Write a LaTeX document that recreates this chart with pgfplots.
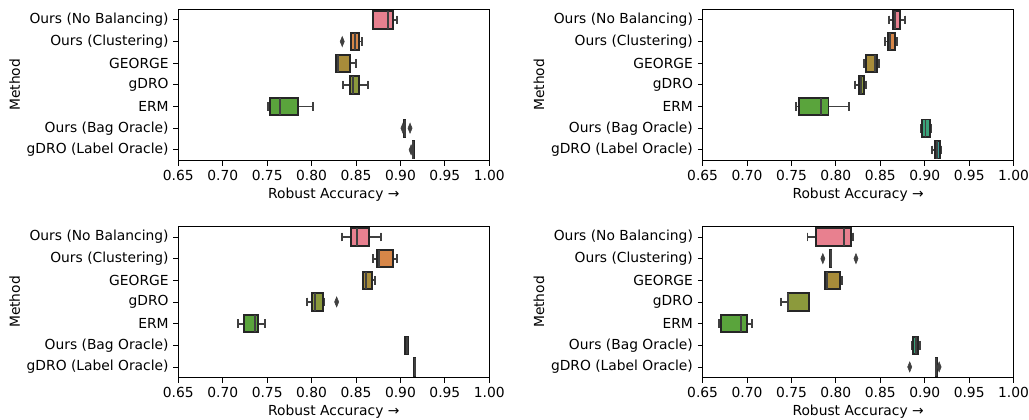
\documentclass[border=0pt]{standalone}
\usepackage{fontspec}
\setmainfont{DejaVu Sans}
\usepackage{pgfplots}
\pgfplotsset{compat=1.18}
\usepgfplotslibrary{statistics}
\definecolor{cA}{RGB}{232,128,143}
\definecolor{cB}{RGB}{214,134,72}
\definecolor{cC}{RGB}{168,140,58}
\definecolor{cD}{RGB}{140,154,60}
\definecolor{cE}{RGB}{90,164,60}
\definecolor{cF}{RGB}{58,162,122}
\definecolor{cG}{RGB}{58,160,152}
\definecolor{lg}{RGB}{64,64,64}
\pgfplotsset{
  myax/.style={
    anchor=south west, scale only axis,
    width=223.9bp, height=109.2bp,
    xmin=0.65, xmax=1.0, ymin=-0.5, ymax=6.5, y dir=reverse,
    xtick={0.65,0.70,...,1.001},
    ytick={0,1,2,3,4,5,6},
    yticklabels={Ours (No Balancing),Ours (Clustering),GEORGE,gDRO,ERM,Ours (Bag Oracle),gDRO (Label Oracle)},
    xticklabel style={/pgf/number format/.cd,fixed,fixed zerofill,precision=2},
    /pgf/number format/assume math mode=true,
    tick align=outside, tick pos=left,
    major tick length=3.5pt,
    every tick/.style={black, line width=0.6pt},
    axis line style={line width=0.6pt},
    font=\fontsize{10}{12}\selectfont,
    xlabel={Robust Accuracy\ →},
    ylabel={Method},
    xlabel style={yshift=2pt},
    ylabel style={yshift=-2pt},
    boxplot/draw direction=x,
    boxplot/box extend=0.8,
    boxplot/whisker extend=0.4,
    boxplot/every whisker/.style={lg, line width=1.3bp},
    boxplot/every median/.style={lg, line width=1.3bp},
    boxplot/every box/.style={draw=black!85, line width=1.4bp},
  },
  fl/.style={only marks, mark=diamond*, mark size=3.6bp, mark options={xscale=0.55, fill=lg, draw=lg}},
}
% pos, color, lw, q1, med, q3, uw
\newcommand{\bx}[7]{\addplot[fill=#2, boxplot prepared={draw position=#1, lower whisker=#3, lower quartile=#4, median=#5, upper quartile=#6, upper whisker=#7}] coordinates {};}
\begin{document}
\begin{tikzpicture}
\useasboundingbox (0,0) rectangle (740.9bp,301.7bp);
% top left
\begin{axis}[myax, at={(128.4bp,186.0bp)}]
\bx{0}{cA}{0.8687}{0.8687}{0.8863}{0.8919}{0.8957}
\bx{1}{cB}{0.8443}{0.8443}{0.8488}{0.8533}{0.8563}
\bx{2}{cC}{0.8270}{0.8270}{0.8300}{0.8432}{0.8499}
\bx{3}{cD}{0.8353}{0.8432}{0.8462}{0.8533}{0.8634}
\bx{4}{cE}{0.7513}{0.7531}{0.7644}{0.7850}{0.8012}
\bx{5}{cF}{0.9045}{0.9045}{0.9050}{0.9056}{0.9056}
\bx{6}{cG}{0.9140}{0.9140}{0.9144}{0.9148}{0.9148}
\addplot[fl] coordinates {(0.8345,1) (0.9028,5) (0.9108,5) (0.9120,6)};
\end{axis}
% top right
\begin{axis}[myax, at={(505.9bp,186.0bp)}]
\bx{0}{cA}{0.8601}{0.8639}{0.8669}{0.8726}{0.8778}
\bx{1}{cB}{0.8553}{0.8586}{0.8613}{0.8665}{0.8688}
\bx{2}{cC}{0.8312}{0.8338}{0.8444}{0.8462}{0.8485}
\bx{3}{cD}{0.8218}{0.8256}{0.8282}{0.8312}{0.8342}
\bx{4}{cE}{0.7553}{0.7586}{0.7835}{0.7917}{0.8143}
\bx{5}{cF}{0.8959}{0.8970}{0.9008}{0.9056}{0.9071}
\bx{6}{cG}{0.9083}{0.9113}{0.9139}{0.9177}{0.9184}
\end{axis}
% bottom left
\begin{axis}[myax, at={(128.4bp,29.7bp)}]
\bx{0}{cA}{0.8338}{0.8439}{0.8507}{0.8641}{0.8777}
\bx{1}{cB}{0.8694}{0.8732}{0.8762}{0.8912}{0.8964}
\bx{2}{cC}{0.8574}{0.8574}{0.8608}{0.8676}{0.8713}
\bx{3}{cD}{0.7951}{0.8008}{0.8041}{0.8124}{0.8139}
\bx{4}{cE}{0.7168}{0.7235}{0.7359}{0.7393}{0.7475}
\bx{5}{cF}{0.9055}{0.9055}{0.9070}{0.9085}{0.9085}
\bx{6}{cG}{0.9152}{0.9152}{0.9160}{0.9168}{0.9168}
\addplot[fl] coordinates {(0.8282,3)};
\end{axis}
% bottom right
\begin{axis}[myax, at={(505.9bp,29.7bp)}]
\bx{0}{cA}{0.7680}{0.7774}{0.8094}{0.8165}{0.8195}
\bx{1}{cB}{0.7938}{0.7938}{0.7944}{0.7950}{0.7950}
\bx{2}{cC}{0.7880}{0.7880}{0.7898}{0.8041}{0.8071}
\bx{3}{cD}{0.7380}{0.7459}{0.7465}{0.7692}{0.7692}
\bx{4}{cE}{0.6688}{0.6703}{0.6932}{0.6996}{0.7060}
\bx{5}{cF}{0.8857}{0.8868}{0.8902}{0.8928}{0.8947}
\bx{6}{cG}{0.9125}{0.9125}{0.9130}{0.9135}{0.9135}
\addplot[fl] coordinates {(0.7853,1) (0.8226,1) (0.8831,6) (0.9162,6)};
\end{axis}
\end{tikzpicture}
\end{document}
